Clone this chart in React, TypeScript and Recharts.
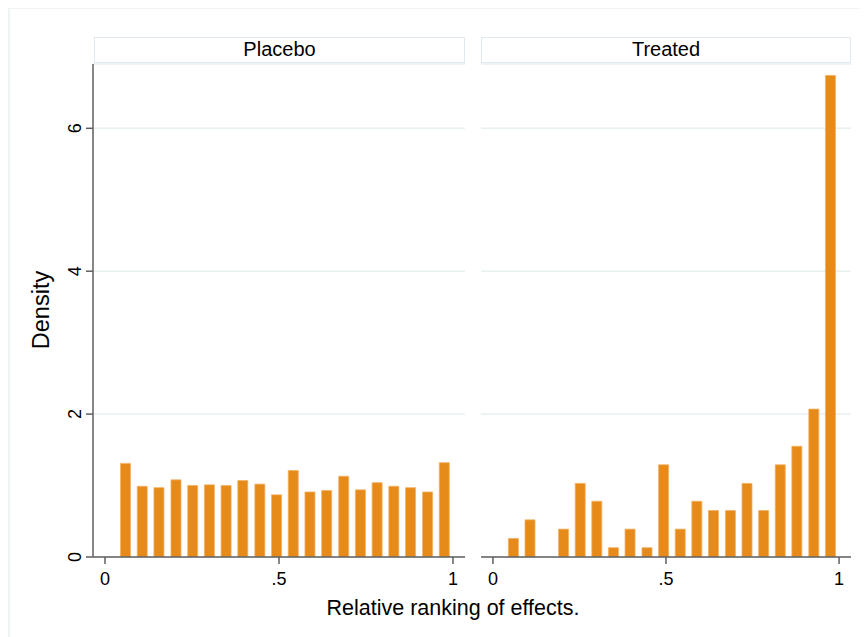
import React from "react";
import { BarChart, Bar, XAxis, YAxis, CartesianGrid } from "recharts";

// bin centres (relative ranking)
const binCenters = [
  0.06, 0.108, 0.156, 0.205, 0.253, 0.301, 0.349, 0.397, 0.446, 0.494,
  0.542, 0.59, 0.638, 0.687, 0.735, 0.783, 0.831, 0.879, 0.928, 0.976,
];

// densities
const placeboDensity = [
  1.31, 0.99, 0.97, 1.08, 1.0, 1.01, 1.0, 1.07, 1.02, 0.87,
  1.21, 0.91, 0.93, 1.13, 0.94, 1.04, 0.99, 0.97, 0.91, 1.32,
];
const treatedDensity = [
  0.26, 0.52, 0, 0.39, 1.03, 0.78, 0.13, 0.39, 0.13, 1.29,
  0.39, 0.78, 0.65, 0.65, 1.03, 0.65, 1.29, 1.55, 2.07, 6.74,
];

const xTicks = [0, 0.5, 1];
const xTickLabels = ["0", ".5", "1"];
const yTicks = [0, 2, 4, 6];

const panelNames = ["Placebo", "Treated"];

const FONT = "'Liberation Sans', Arial, sans-serif";
const BAR_FILL = "#e68a1a";
const BAR_EDGE = "#f3b060";
const AXIS = "#5f5f5f";
const GRID = "#e8f0f2";

const X_DOMAIN: [number, number] = [-0.0345, 1.0345];
const Y_DOMAIN: [number, number] = [0, 6.9];

const fmtX = (v: number) => xTickLabels[xTicks.indexOf(v)] ?? String(v);

const YTick = (props: any) => {
  const { x, y, payload } = props;
  const tx = x - 3;
  return (
    <text
      x={tx}
      y={y}
      transform={`rotate(-90, ${tx}, ${y})`}
      textAnchor="middle"
      fontSize={18}
      fontFamily={FONT}
      fill="#000"
    >
      {payload.value}
    </text>
  );
};

function Panel({ values, showY }: { values: number[]; showY: boolean }) {
  const data = binCenters.map((x, i) => ({ x, density: values[i] }));
  return (
    <BarChart
      width={showY ? 435 : 370}
      height={537}
      data={data}
      margin={{ top: 4, right: 0, bottom: 0, left: 0 }}
    >
      <CartesianGrid vertical={false} stroke={GRID} strokeWidth={1.5} />
      <XAxis
        dataKey="x"
        type="number"
        domain={X_DOMAIN}
        ticks={xTicks}
        tickFormatter={fmtX}
        allowDataOverflow
        height={40}
        tickSize={7}
        tickMargin={8}
        axisLine={{ stroke: AXIS, strokeWidth: 1.5 }}
        tickLine={{ stroke: AXIS, strokeWidth: 1.5 }}
        tick={{ fill: "#000", fontSize: 18, fontFamily: FONT }}
        interval={0}
      />
      <YAxis
        hide={!showY}
        domain={Y_DOMAIN}
        ticks={yTicks}
        allowDataOverflow
        width={63}
        tickSize={7}
        tickMargin={2}
        axisLine={{ stroke: AXIS, strokeWidth: 1.5 }}
        tickLine={{ stroke: AXIS, strokeWidth: 1.5 }}
        tick={<YTick />}
        interval={0}
      />
      <Bar
        dataKey="density"
        fill={BAR_FILL}
        stroke={BAR_EDGE}
        strokeWidth={0.8}
        barSize={10}
        isAnimationActive={false}
      />
    </BarChart>
  );
}

const stripStyle: React.CSSProperties = {
  position: "absolute",
  top: 29,
  height: 26,
  boxSizing: "border-box",
  border: "1.5px solid #e0e9ee",
  background: "#fff",
  fontFamily: FONT,
  fontSize: 20,
  lineHeight: "23px",
  textAlign: "center",
  color: "#000",
};

export default function App() {
  return (
    <div
      style={{
        position: "relative",
        width: 859,
        height: 629,
        overflow: "hidden",
        background: "#fff",
      }}
    >
      <div
        style={{
          position: "absolute",
          left: 0,
          top: -1,
          width: 900,
          height: 700,
          borderLeft: "2px solid #eef3f3",
          borderTop: "2px solid #eef3f3",
        }}
      />
      <div style={{ ...stripStyle, left: 86, width: 371 }}>{panelNames[0]}</div>
      <div style={{ ...stripStyle, left: 473, width: 370 }}>{panelNames[1]}</div>

      <div style={{ position: "absolute", left: 22, top: 52 }}>
        <Panel values={placeboDensity} showY />
      </div>
      <div style={{ position: "absolute", left: 473, top: 52 }}>
        <Panel values={treatedDensity} showY={false} />
      </div>

      <div
        style={{
          position: "absolute",
          left: 33,
          top: 302,
          transform: "translate(-50%, -50%) rotate(-90deg)",
          fontFamily: FONT,
          fontSize: 23.5,
          whiteSpace: "nowrap",
          color: "#000",
        }}
      >
        Density
      </div>
      <div
        style={{
          position: "absolute",
          left: 445,
          top: 600,
          transform: "translate(-50%, -50%)",
          fontFamily: FONT,
          fontSize: 21.5,
          whiteSpace: "nowrap",
          color: "#000",
        }}
      >
        Relative ranking of effects.
      </div>
    </div>
  );
}
